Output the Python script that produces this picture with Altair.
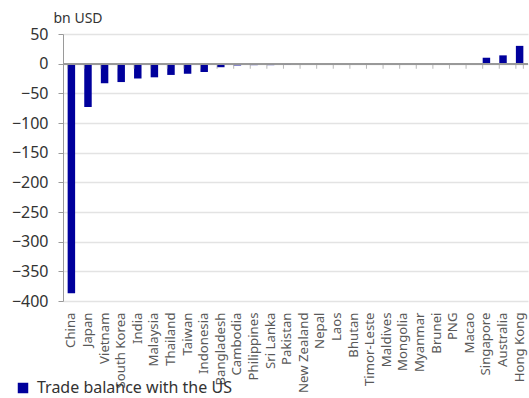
import altair as alt
import pandas as pd

# Trade balance with the US by economy, bn USD
economies = [
    "China", "Japan", "Vietnam", "South Korea", "India", "Malaysia", "Thailand",
    "Taiwan", "Indonesia", "Bangladesh", "Cambodia", "Philippines", "Sri Lanka",
    "Pakistan", "New Zealand", "Nepal", "Laos", "Bhutan", "Timor-Leste",
    "Maldives", "Mongolia", "Myanmar", "Brunei", "PNG", "Macao", "Singapore",
    "Australia", "Hong Kong",
]
balance = [
    -387, -73, -33, -31, -25, -23, -19,
    -17, -14, -6, -3, -2.5, -2.5,
    -2, -0.5, -0.2, -0.2, -0.1, -0.1,
    -0.1, -0.1, -0.2, -0.1, -0.1, 0.2, 10,
    14, 30,
]
series_name = "Trade balance with the US"
y_ticks = list(range(-400, 51, 50))

df = pd.DataFrame({"economy": economies, "balance": balance, "series": series_name})
last = df[df["economy"] == economies[-1]]

FONT = "Noto Sans"
NAVY = "#00009C"
AXIS_GREY = "#9a9a9a"

x_scale = alt.Scale(paddingInner=0.55, paddingOuter=0.28)
y_scale = alt.Scale(domain=[-400, 50], nice=False, zero=False)
y_axis = alt.Axis(
    values=y_ticks, labelOverlap=False, title="bn USD", titleAngle=0,
    titleAlign="left", titleBaseline="alphabetic", titleX=-10, titleY=-12,
    titleFont=FONT, titleFontSize=14, titleFontWeight="normal",
    titleColor="#333333", labelFont=FONT, labelFontSize=16,
    labelColor="#333333", labelPadding=10, tickSize=5, tickColor=AXIS_GREY,
    domainColor=AXIS_GREY, gridColor="#e3e3e3", gridWidth=1.5,
)

bars = alt.Chart(df).mark_bar(color=NAVY).encode(
    x=alt.X("economy:N", sort=economies, scale=x_scale).axis(
        title=None, labelAngle=-90, labelFontSize=13.2, labelColor="#595959",
        labelFont=FONT, labelPadding=11, domain=False, ticks=False,
    ),
    y=alt.Y("balance:Q", scale=y_scale, axis=y_axis),
    color=alt.Color("series:N", scale=alt.Scale(range=[NAVY])).legend(
        title=None, orient="none", legendX=-48, legendY=346,
        symbolType="square", symbolSize=110, labelFont=FONT, labelFontSize=16,
        labelColor="#333333", labelLimit=400, symbolStrokeWidth=0,
        labelOffset=6,
    ),
)

# Zero line across the plot
zero_line = alt.Chart(df).mark_rule(color=AXIS_GREY, strokeWidth=1).encode(
    y=alt.Y(datum=0, scale=y_scale, axis=y_axis),
)

# Small ticks below the zero line at each category boundary
edge_ticks = alt.Chart(df).mark_tick(
    orient="vertical", size=5, yOffset=2.5, color=AXIS_GREY, thickness=1
).encode(
    x=alt.X("economy:N", sort=economies, scale=x_scale, bandPosition=0),
    y=alt.Y(datum=0, scale=y_scale, axis=y_axis),
)
end_tick = alt.Chart(last).mark_tick(
    orient="vertical", size=5, yOffset=2.5, color=AXIS_GREY, thickness=1
).encode(
    x=alt.X("economy:N", sort=economies, scale=x_scale, bandPosition=1),
    y=alt.Y(datum=0, scale=y_scale, axis=y_axis),
)

chart = (
    alt.layer(bars, zero_line, edge_ticks, end_tick)
    .properties(
        width=465, height=267,
        autosize=alt.AutoSizeParams(type="none"),
        padding={"left": 63, "top": 34, "right": 1, "bottom": 97},
    )
    .configure_view(stroke=None)
)

chart.save("out.html", embed_options={"renderer": "svg", "actions": False})
